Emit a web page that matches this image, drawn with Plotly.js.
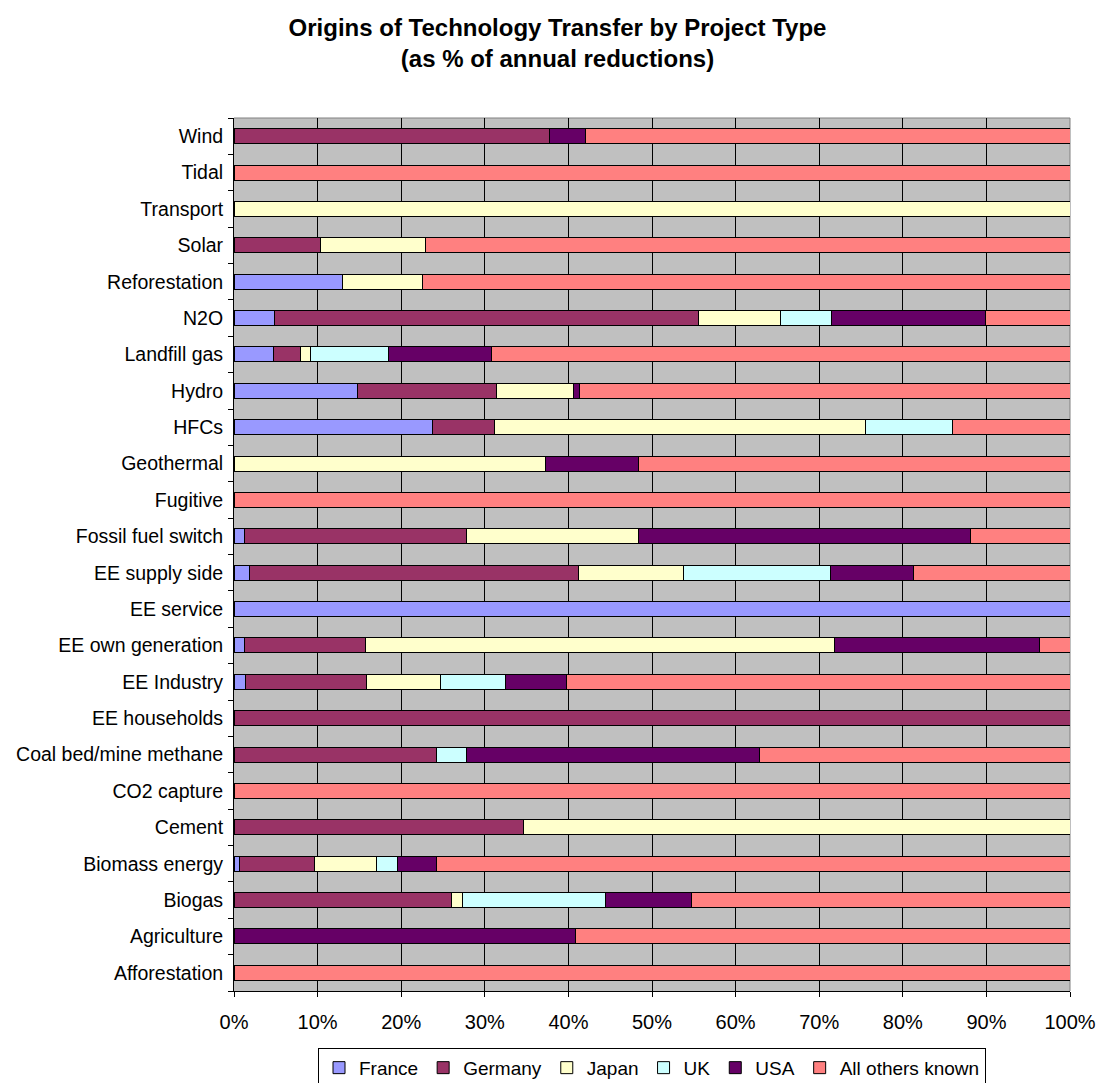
<!DOCTYPE html>
<html>
<head>
<meta charset="utf-8">
<script src="https://cdn.plot.ly/plotly-3.0.1.min.js"></script>
<style>html,body{margin:0;padding:0;background:#fff;}#chart{width:1104px;height:1083px;}</style>
</head>
<body>
<div id="chart"></div>
<script>
// Categories listed bottom-to-top as drawn
const categories = ["Afforestation","Agriculture","Biogas","Biomass energy","Cement","CO2 capture","Coal bed/mine methane","EE households","EE Industry","EE own generation","EE service","EE supply side","Fossil fuel switch","Fugitive","Geothermal","HFCs","Hydro","Landfill gas","N2O","Reforestation","Solar","Transport","Tidal","Wind"];

const france  = [0,0,0,0.7,0,0,0,0,1.4,1.25,100,1.8,1.25,0,0,23.8,14.8,4.7,4.9,13.0,0,0,0,0];
const germany = [0,0,26.0,8.9,34.65,0,24.2,100,14.5,14.45,0,39.4,26.55,0,0,7.3,16.6,3.3,50.7,0,10.3,0,0,37.7];
const japan   = [0,0,1.3,7.5,65.35,0,0,0,8.8,56.1,0,12.6,20.6,0,37.3,44.4,9.2,1.1,9.8,9.5,12.6,100,0,0];
const uk      = [0,0,17.1,2.4,0,0,3.6,0,7.8,0,0,17.5,0,0,0,10.5,0,9.4,6.1,0,0,0,0,0];
const usa     = [0,40.8,10.3,4.7,0,0,35.1,0,7.25,24.6,0,10.0,39.7,0,11.1,0,0.7,12.3,18.4,0,0,0,0,4.4];
const others  = [100,59.2,45.3,75.8,0,100,37.1,0,60.25,3.6,0,18.7,11.9,100,51.6,14.0,58.7,69.2,10.1,77.5,77.1,0,100,57.9];

const seriesNames = ["France","Germany","Japan","UK","USA","All others known"];
const seriesValues = [france, germany, japan, uk, usa, others];
const seriesColors = ["#9999FF","#993366","#FFFFCC","#CCFFFF","#660066","#FF8080"];
const xTicks = [0,10,20,30,40,50,60,70,80,90,100];

const FONT = "Liberation Sans, Arial, sans-serif";

const traces = seriesNames.map((name, i) => ({
  type: "bar",
  orientation: "h",
  name: name,
  y: categories,
  x: seriesValues[i].map(v => v === 0 ? null : v),
  marker: { color: seriesColors[i], line: { color: "#000000", width: 1 } },
  hoverinfo: "skip"
}));

const layout = {
  width: 1104,
  height: 1083,
  margin: { l: 233.5, r: 34, t: 118, b: 92, autoexpand: false },
  paper_bgcolor: "#ffffff",
  plot_bgcolor: "#C0C0C0",
  barmode: "stack",
  bargap: 0.59,
  showlegend: true,
  font: { family: FONT, size: 19, color: "#000000" },
  title: {
    text: "<b>Origins of Technology Transfer by Project Type<br>(as % of annual reductions)</b>",
    font: { family: FONT, size: 24, color: "#000000" },
    xref: "container", x: 0.505, xanchor: "center",
    yref: "container", y: 0.967, yanchor: "top"
  },
  xaxis: {
    range: [0, 100],
    tickvals: xTicks,
    ticktext: xTicks.map(v => v + "%"),
    showgrid: true, gridcolor: "#000000", gridwidth: 1,
    zeroline: false,
    showline: true, linecolor: "#000000", linewidth: 1,
    ticks: "outside", ticklen: 5, tickcolor: "#000000", tickwidth: 1,
    ticklabelstandoff: 8,
    tickfont: { family: FONT, size: 20, color: "#000000" },
    fixedrange: true
  },
  yaxis: {
    type: "category",
    categoryorder: "array",
    categoryarray: categories,
    showgrid: false,
    zeroline: false,
    showline: true, linecolor: "#000000", linewidth: 1,
    ticks: "outside", ticklen: 5, tickcolor: "#000000", tickwidth: 1,
    tickson: "boundaries",
    ticklabelstandoff: 6,
    tickfont: { family: FONT, size: 19.5, color: "#000000" },
    fixedrange: true
  },
  legend: {
    orientation: "h",
    traceorder: "normal",
    xref: "paper", x: 0.5, xanchor: "center",
    yref: "container", y: 0.0325, yanchor: "top",
    bordercolor: "#000000", borderwidth: 1,
    bgcolor: "#ffffff",
    font: { family: FONT, size: 19, color: "#000000" },
    itemwidth: 30,
    tracegroupgap: 0
  },
  shapes: [
    { type: "line", xref: "paper", yref: "paper", x0: 0, x1: 1, y0: 1, y1: 1, line: { color: "#808080", width: 1 }, layer: "below" },
    { type: "line", xref: "paper", yref: "paper", x0: 1, x1: 1, y0: 0, y1: 1, line: { color: "#808080", width: 1 }, layer: "below" }
  ]
};

Plotly.newPlot("chart", traces, layout, { displayModeBar: false, staticPlot: true });
</script>
</body>
</html>
